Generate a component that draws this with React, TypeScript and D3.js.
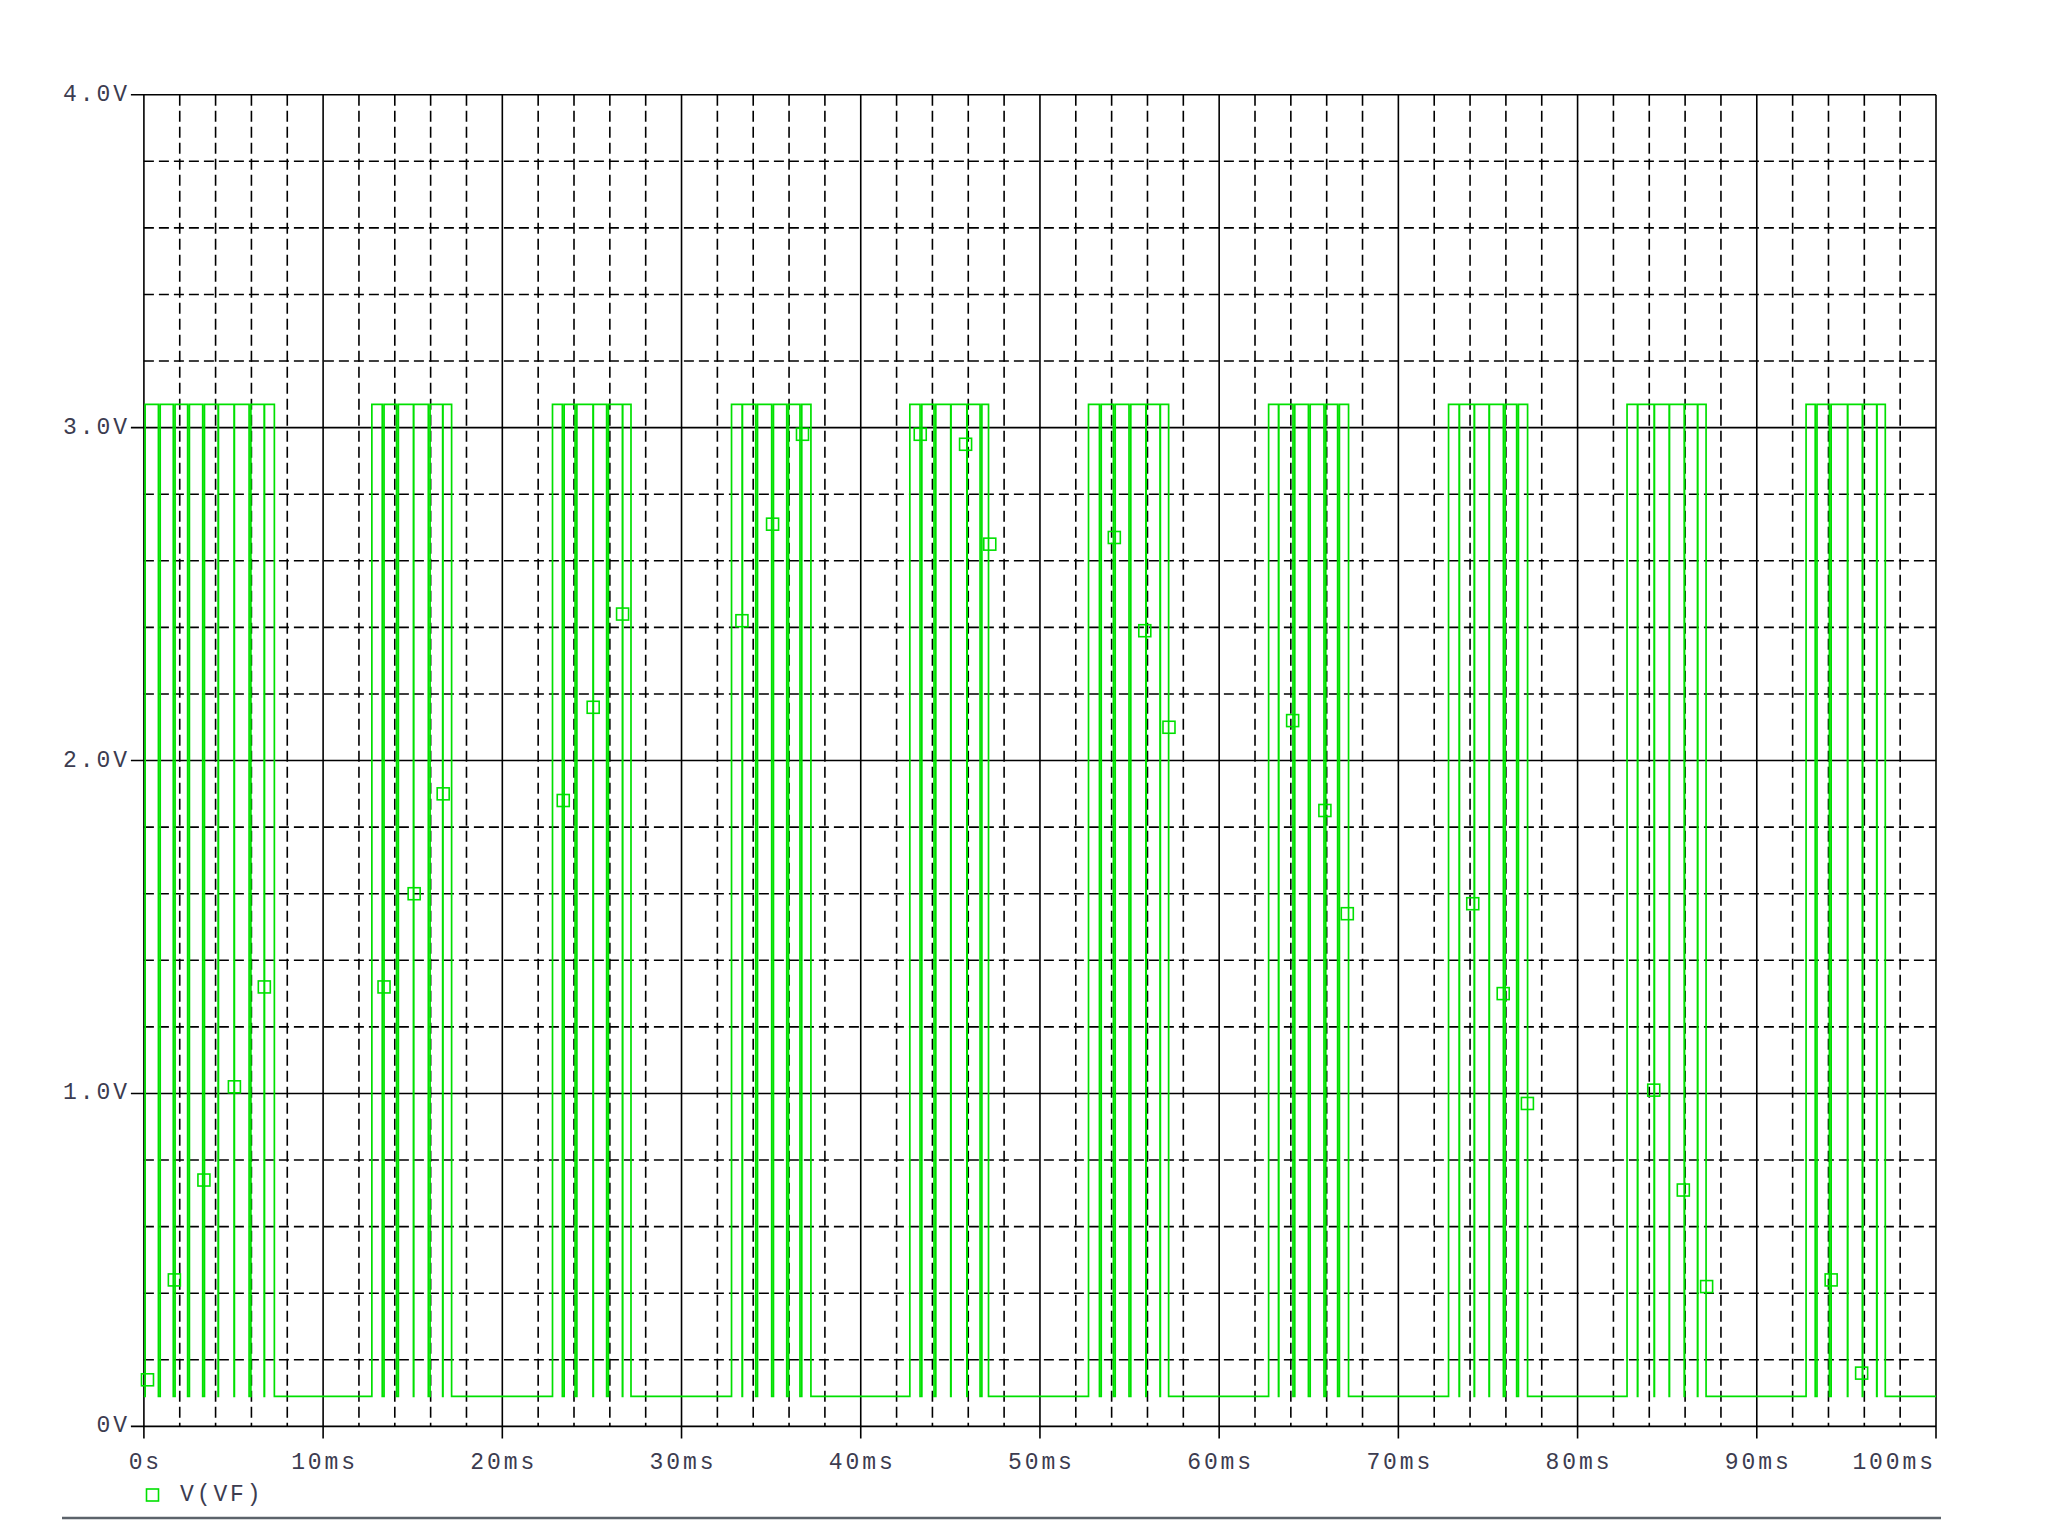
import React from "react";
import * as d3 from "d3";

// ---- data ----
const LOW_LEVEL = 0.09;
const HIGH_LEVEL = 3.07;
const burstStarts = [0.07, 12.72, 22.8, 32.79, 42.74, 52.71, 62.76, 72.8, 82.76, 92.75];
const burstEnds = [7.28, 17.17, 27.18, 37.22, 47.13, 57.18, 67.22, 77.21, 87.17, 97.17];
const dipTimes = [
  [0.86, 1.69, 2.49, 3.33, 4.15, 5.04, 5.92, 6.72],
  [13.35, 14.15, 15.05, 15.92, 16.68],
  [23.4, 24.11, 25.07, 25.87, 26.71],
  [33.39, 34.19, 35.08, 35.92, 36.66],
  [43.36, 44.14, 45.03, 45.93, 46.71],
  [53.37, 54.15, 55.02, 55.92, 56.71],
  [63.32, 64.17, 65.03, 65.9, 66.66],
  [73.4, 74.24, 75.07, 75.91, 76.65],
  [83.35, 84.28, 85.12, 85.96, 86.7],
  [93.31, 94.1, 95.07, 95.9, 96.7],
];
const dipWidths = [
  [0.1, 0.1, 0.1, 0.1, 0.02, 0.02, 0.1, 0.02],
  [0.1, 0.1, 0.02, 0.1, 0.02],
  [0.1, 0.1, 0.02, 0.1, 0.02],
  [0.02, 0.1, 0.1, 0.1, 0.1],
  [0.1, 0.1, 0.02, 0.02, 0.1],
  [0.1, 0.1, 0.1, 0.02, 0.02],
  [0.02, 0.1, 0.1, 0.1, 0.1],
  [0.02, 0.02, 0.02, 0.1, 0.1],
  [0.02, 0.02, 0.02, 0.02, 0.02],
  [0.1, 0.1, 0.02, 0.02, 0.02],
];
const markerTimes = [0.2, 1.7, 3.35, 5.05, 6.72, 13.4, 15.08, 16.7, 23.4, 25.07, 26.71, 33.37, 35.08, 36.75, 43.32, 45.85, 47.2, 54.15, 55.85, 57.2, 64.1, 65.9, 67.15, 74.15, 75.85, 77.2, 84.25, 85.9, 87.2, 94.15, 95.85];
const markerValues = [0.14, 0.44, 0.74, 1.02, 1.32, 1.32, 1.6, 1.9, 1.88, 2.16, 2.44, 2.42, 2.71, 2.98, 2.98, 2.95, 2.65, 2.67, 2.39, 2.1, 2.12, 1.85, 1.54, 1.57, 1.3, 0.97, 1.01, 0.71, 0.42, 0.44, 0.16];
const xTickValues = [0, 10, 20, 30, 40, 50, 60, 70, 80, 90, 100];
const xTickLabels = ["0s", "10ms", "20ms", "30ms", "40ms", "50ms", "60ms", "70ms", "80ms", "90ms", "100ms"];
const yTickValues = [0, 1, 2, 3, 4];
const yTickLabels = ["0V", "1.0V", "2.0V", "3.0V", "4.0V"];
const legendLabel = "V(VF)";

const GREEN = "#00e000";
const FONT = "'Liberation Mono', 'DejaVu Sans Mono', monospace";
const FS = 23;
const LS = 2.9;
const TEXT = "#3c3c50";

export default function App() {
  const x = d3.scaleLinear().domain([0, 100]).range([143.9, 1936]);
  const y = d3.scaleLinear().domain([0, 4]).range([1426.4, 94.7]);

  const pts: [number, number][] = [[0, LOW_LEVEL]];
  burstStarts.forEach((s, i) => {
    pts.push([s, LOW_LEVEL], [s, HIGH_LEVEL]);
    dipTimes[i].forEach((d, j) => {
      const w = dipWidths[i][j] / 2;
      pts.push([d - w, HIGH_LEVEL], [d - w, LOW_LEVEL], [d + w, LOW_LEVEL], [d + w, HIGH_LEVEL]);
    });
    pts.push([burstEnds[i], HIGH_LEVEL], [burstEnds[i], LOW_LEVEL]);
  });
  pts.push([100, LOW_LEVEL]);
  const line = d3.line<[number, number]>().x((d) => x(d[0])).y((d) => y(d[1]));

  const minorX = d3.range(0, 100.001, 2).filter((v) => Math.round(v) % 10 !== 0);
  const minorY = d3.range(0, 4.001, 0.2).filter((v) => Math.abs(v - Math.round(v)) > 0.01);

  const x0 = x(0), x1 = x(100), yTop = y(4), yBot = y(0);
  const last = xTickValues.length - 1;

  return (
    <svg width={2048} height={1536} style={{ position: "absolute", left: 0, top: 0, background: "#fff" }}>
      <rect width={2048} height={1536} fill="#fff" />
      {minorY.map((v) => (
        <line key={"my" + v} x1={x0} x2={x1} y1={y(v)} y2={y(v)} stroke="#000" strokeWidth={1.6} strokeDasharray="10,5" />
      ))}
      {minorX.map((v) => (
        <line key={"mx" + v} x1={x(v)} x2={x(v)} y1={yTop} y2={yBot} stroke="#000" strokeWidth={1.6} strokeDasharray="11,5" />
      ))}
      {yTickValues.map((v) => (
        <line key={"gy" + v} x1={x0 - 13} x2={x1} y1={y(v)} y2={y(v)} stroke="#000" strokeWidth={1.6} />
      ))}
      {xTickValues.map((v) => (
        <line key={"gx" + v} x1={x(v)} x2={x(v)} y1={yTop} y2={yBot + 12} stroke="#000" strokeWidth={1.6} />
      ))}
      <path d={line(pts) || ""} fill="none" stroke={GREEN} strokeWidth={1.7} />
      {markerTimes.map((t, i) => (
        <rect key={"m" + i} x={x(t) - 6} y={y(markerValues[i]) - 6} width={12} height={12} fill="none" stroke={GREEN} strokeWidth={1.6} />
      ))}
      {yTickValues.map((v, i) => (
        <text key={"yl" + v} x={127 + LS} y={y(v)} textAnchor="end" dominantBaseline="central" fontFamily={FONT} fontSize={FS} letterSpacing={LS} fill={TEXT}>
          {yTickLabels[i]}
        </text>
      ))}
      {xTickValues.map((v, i) => (
        <text
          key={"xl" + v}
          x={i === last ? x(v) + LS - 3 : x(v) + LS / 2}
          y={1469}
          textAnchor={i === last ? "end" : "middle"}
          fontFamily={FONT}
          fontSize={FS}
          letterSpacing={LS}
          fill={TEXT}
        >
          {xTickLabels[i]}
        </text>
      ))}
      <rect x={146.5} y={1489} width={12} height={12} fill="none" stroke={GREEN} strokeWidth={1.6} />
      <text x={180} y={1495} dominantBaseline="central" fontFamily={FONT} fontSize={FS} letterSpacing={LS} fill={TEXT}>
        {legendLabel}
      </text>
      <line x1={62} x2={1941} y1={1518} y2={1518} stroke="#5c636b" strokeWidth={2.5} />
    </svg>
  );
}
